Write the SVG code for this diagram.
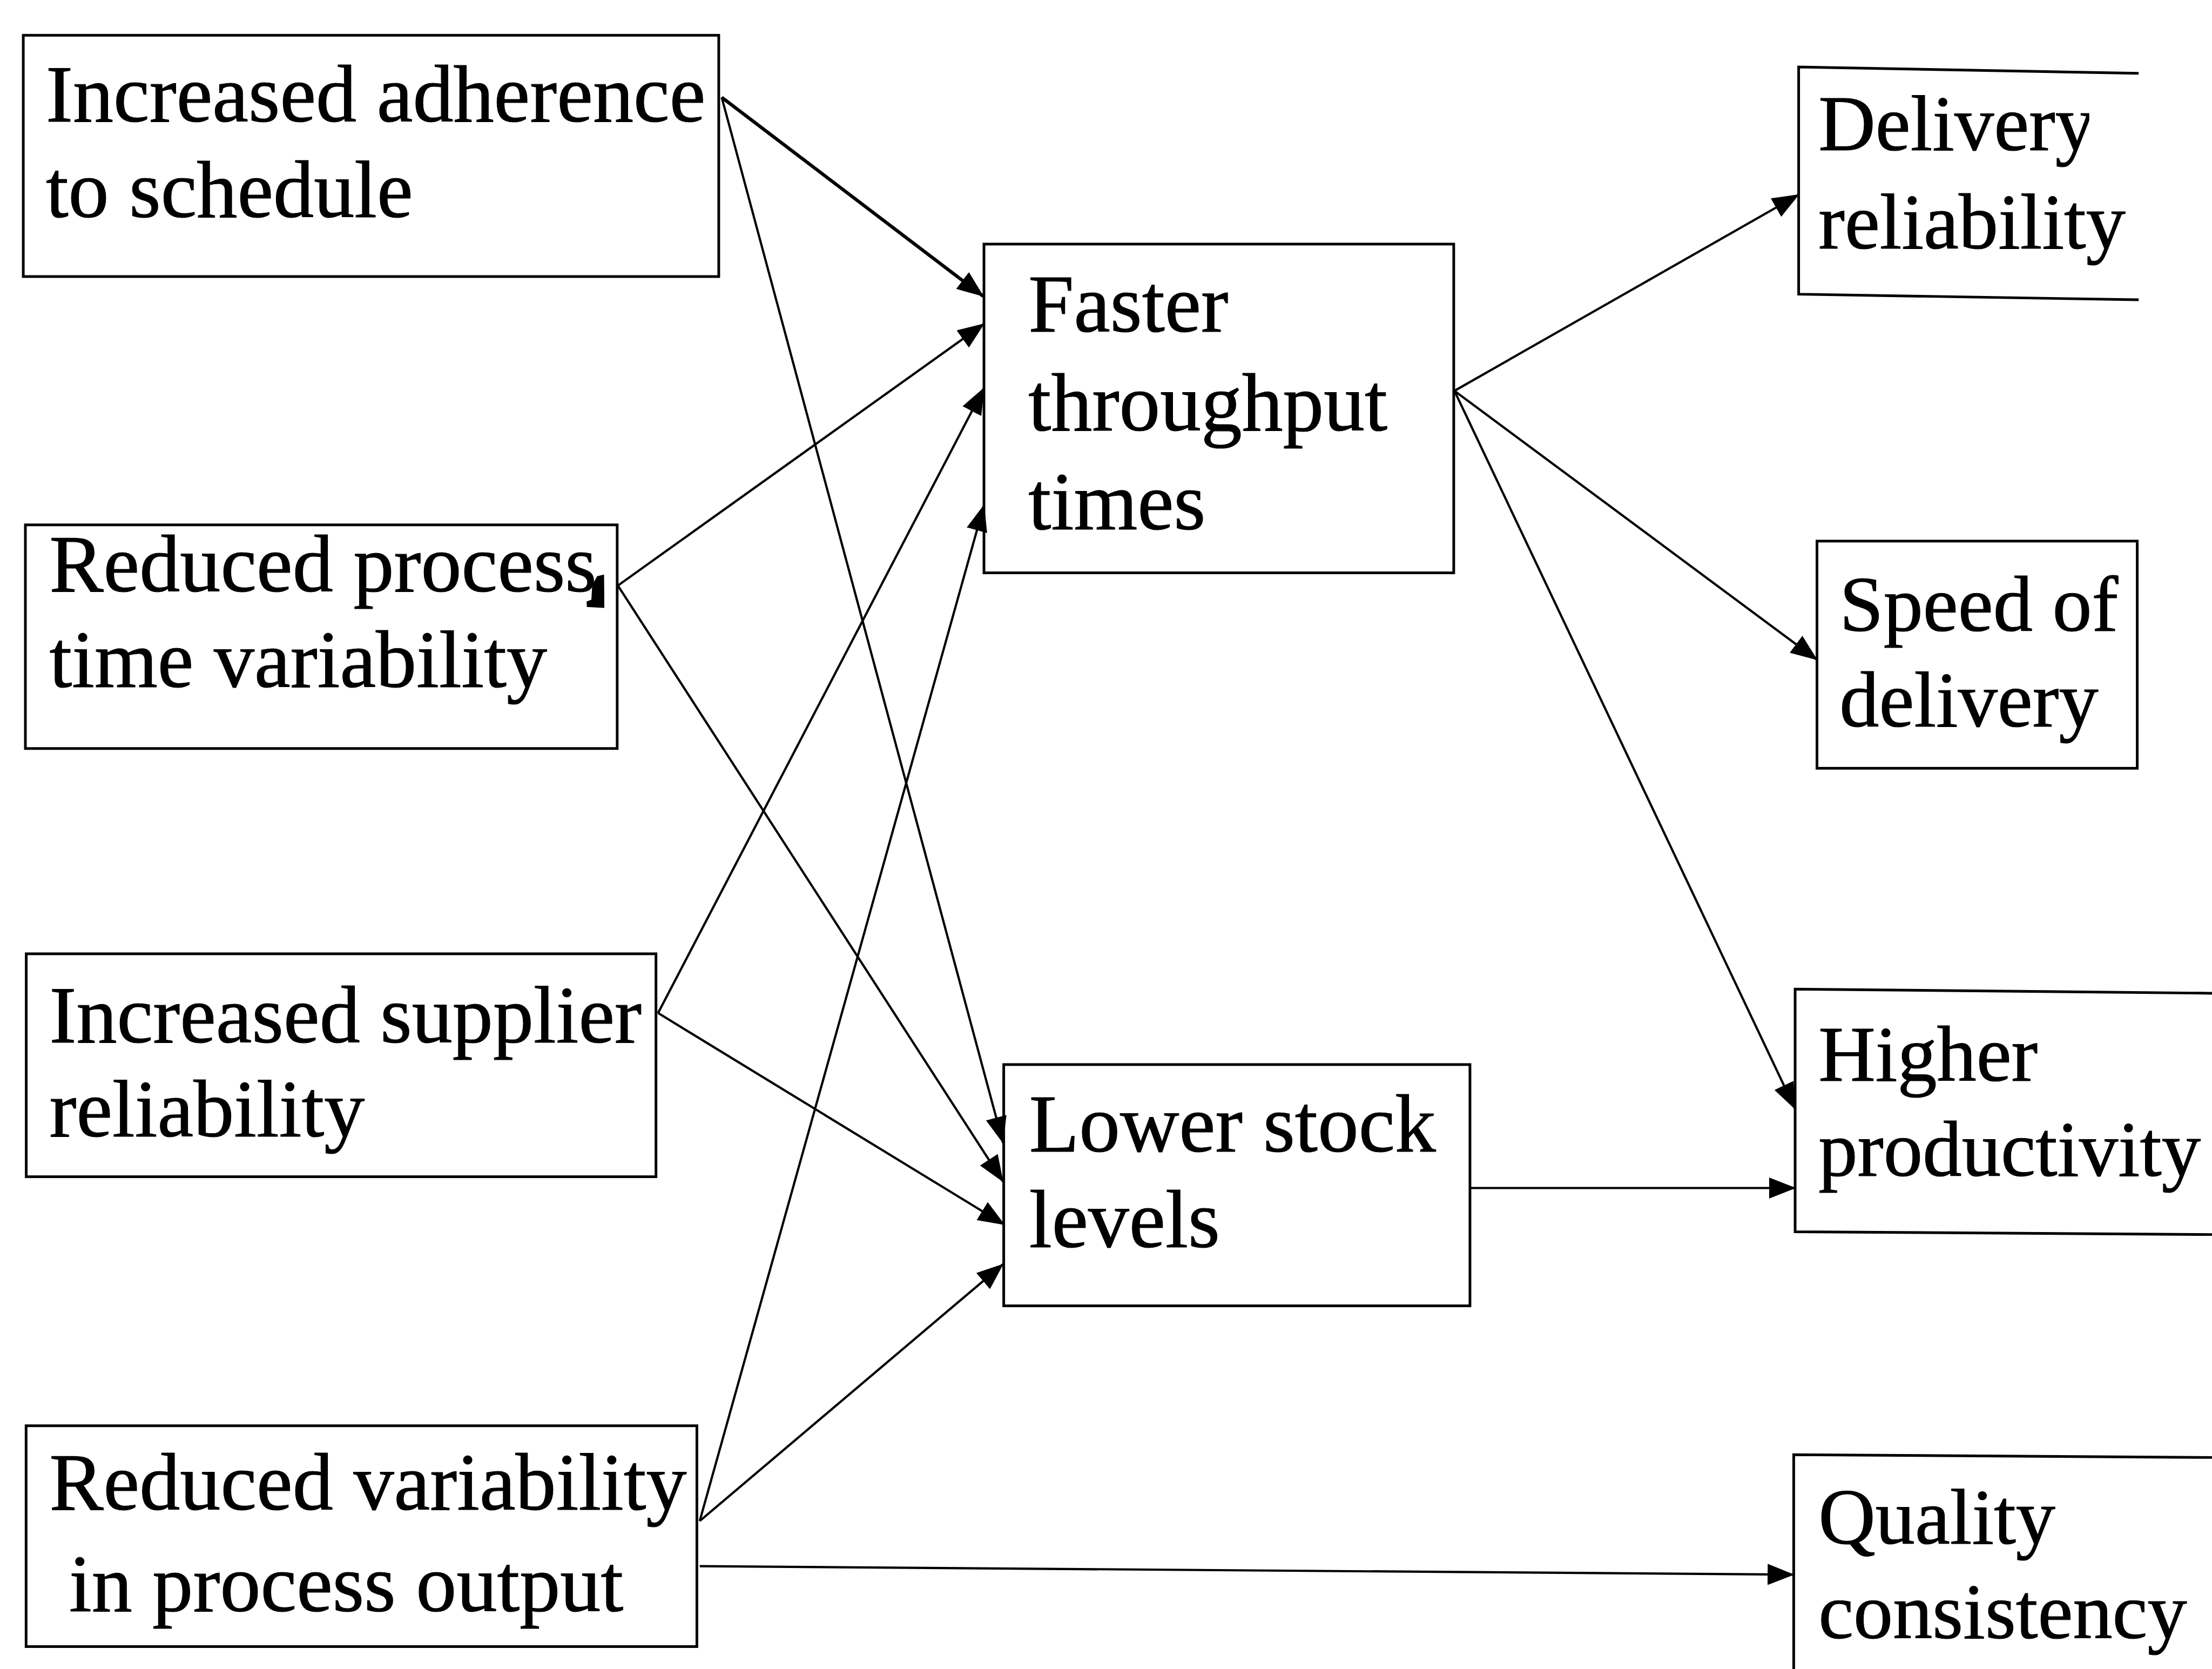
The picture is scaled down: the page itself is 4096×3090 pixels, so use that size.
<svg xmlns="http://www.w3.org/2000/svg" width="4096" height="3090" viewBox="0 0 4096 3090">
  <defs>
    <style>
      .box { fill: none; stroke: #000; stroke-width: 1.9; stroke-linejoin: miter; }
      .lbl { font-family: "Liberation Serif", "Times New Roman", serif; font-size: 57.5px; fill: #000; stroke: #000; stroke-width: 0.45; }
      .mid { font-size: 58px; }
      .out { font-size: 56px; }
      .edge { fill: none; stroke: #000; stroke-width: 1.6; marker-end: url(#ah); }
      .edge.heavy { stroke-width: 2.4; }
    </style>
    <marker id="ah" markerUnits="userSpaceOnUse" viewBox="0 0 19 15" markerWidth="19" markerHeight="15" refX="18.5" refY="7.5" orient="auto">
      <path d="M0,0 L19,7.5 L0,15 z" fill="#000"/>
    </marker>
    <clipPath id="clip-delivery">
      <rect x="1270" y="40" width="211" height="140"/>
    </clipPath>
  </defs>
  <rect width="4096" height="3090" fill="#fff"/>
  <g transform="scale(2.61224)">
    <!-- connectors -->
    <g id="connectors">
      <line class="edge heavy" x1="511.6" y1="69" x2="697" y2="210"/>
      <line class="edge" x1="511.6" y1="69" x2="711" y2="810"/>
      <line class="edge" x1="438" y1="415" x2="697.5" y2="229.5"/>
      <line class="edge" x1="438" y1="415" x2="711" y2="837.5"/>
      <line class="edge" x1="466.5" y1="718" x2="697.5" y2="275"/>
      <line class="edge" x1="466.5" y1="718" x2="712" y2="868"/>
      <line class="edge" x1="496" y1="1078" x2="697.5" y2="358"/>
      <line class="edge" x1="496" y1="1078" x2="711" y2="896"/>
      <line class="edge" x1="496" y1="1110" x2="1271.5" y2="1116"/>
      <line class="edge" x1="1031" y1="277" x2="1275" y2="138"/>
      <line class="edge" x1="1031" y1="277" x2="1288" y2="467.6"/>
      <line class="edge" x1="1031" y1="277" x2="1272.5" y2="786"/>
      <line class="edge" x1="1042" y1="842" x2="1272.5" y2="842"/>
    </g>

    <g id="n-adherence">
      <rect class="box" x="16.5" y="25" width="493" height="171"/>
      <text class="lbl" x="32.5" y="86">Increased adherence</text>
      <text class="lbl" x="32.5" y="154">to schedule</text>
    </g>

    <g id="n-process-time">
      <rect class="box" x="18" y="372" width="419.5" height="158.5"/>
      <text class="lbl" x="35" y="419">Reduced process</text>
      <text class="lbl" x="35" y="487">time variability</text>
      <!-- ink blot over the final letter -->
      <path d="M423.3,408.4 L428.2,407.2 L428.4,430.9 L416,430.2 L415.8,426.4 L419.2,425 L419.8,414.7 z" fill="#000"/>
    </g>

    <g id="n-supplier">
      <rect class="box" x="18.6" y="676" width="446.4" height="158"/>
      <text class="lbl" x="35" y="739">Increased supplier</text>
      <text class="lbl" x="35" y="805.5">reliability</text>
    </g>

    <g id="n-process-output">
      <rect class="box" x="18.5" y="1010.5" width="475.5" height="156.5"/>
      <text class="lbl" x="35" y="1070">Reduced variability</text>
      <text class="lbl" x="49" y="1142">in process output</text>
    </g>

    <g id="n-throughput">
      <rect class="box" x="697.5" y="173" width="333" height="233"/>
      <text class="lbl mid" x="729" y="235">Faster</text>
      <text class="lbl mid" x="729" y="305">throughput</text>
      <text class="lbl mid" x="729" y="375">times</text>
    </g>

    <g id="n-stock">
      <rect class="box" x="711.5" y="754.5" width="330.5" height="171"/>
      <text class="lbl mid" x="729.5" y="816">Lower stock</text>
      <text class="lbl mid" x="729.5" y="884">levels</text>
    </g>

    <g id="n-delivery-reliability">
      <polyline class="box" points="1516,52 1275,47.5 1275,208.5 1516,212.5"/>
      <text class="lbl out" x="1289" y="106.6" clip-path="url(#clip-delivery)">Delivery</text>
      <text class="lbl out" x="1289" y="176">reliability</text>
    </g>

    <g id="n-speed">
      <rect class="box" x="1288" y="383.5" width="227" height="161"/>
      <text class="lbl out" x="1304" y="447">Speed of</text>
      <text class="lbl out" x="1304" y="515">delivery</text>
    </g>

    <g id="n-productivity">
      <polyline class="box" points="1572,704 1272.5,701 1272.5,873 1572,875"/>
      <text class="lbl out" x="1289" y="766">Higher</text>
      <text class="lbl out" x="1289" y="833.5" textLength="271" lengthAdjust="spacingAndGlyphs">productivity</text>
    </g>

    <g id="n-quality">
      <polyline class="box" points="1572,1033 1271.5,1031 1271.5,1192"/>
      <text class="lbl out" x="1289" y="1094">Quality</text>
      <text class="lbl out" x="1289" y="1161">consistency</text>
    </g>
  </g>
</svg>
